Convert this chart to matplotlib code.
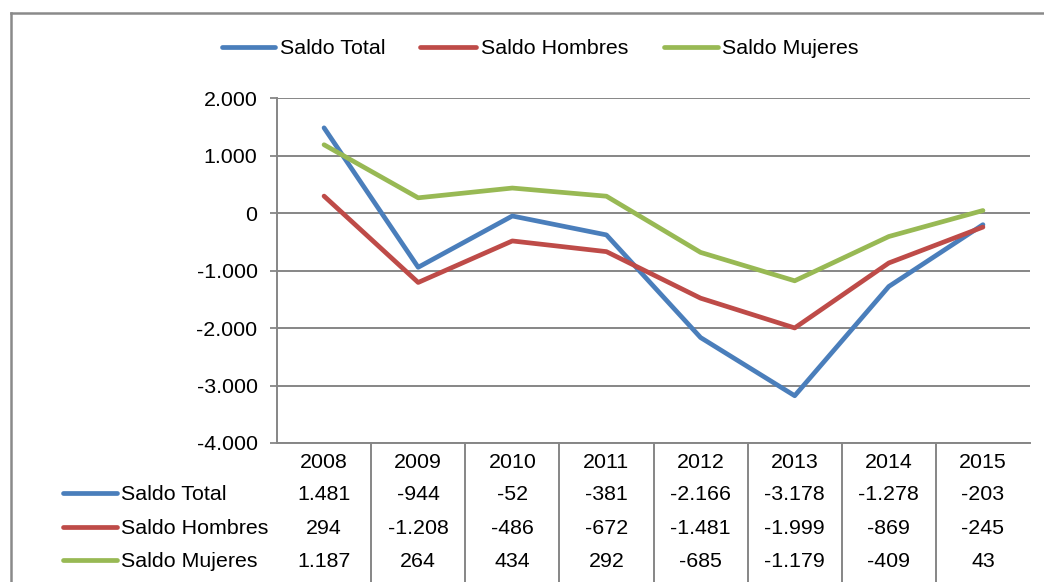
import matplotlib
matplotlib.use("Agg")
import matplotlib.pyplot as plt
from matplotlib.lines import Line2D
from matplotlib.ticker import FuncFormatter
import matplotlib.transforms as mtransforms

years = ["2008", "2009", "2010", "2011", "2012", "2013", "2014", "2015"]
series_names = ["Saldo Total", "Saldo Hombres", "Saldo Mujeres"]
saldo_total = [1481, -944, -52, -381, -2166, -3178, -1278, -203]
saldo_hombres = [294, -1208, -486, -672, -1481, -1999, -869, -245]
saldo_mujeres = [1187, 264, 434, 292, -685, -1179, -409, 43]
colors = ["#4A7EBB", "#BE4B48", "#98B954"]
series = [saldo_total, saldo_hombres, saldo_mujeres]

plt.rcParams['font.family'] = ['Liberation Sans', 'DejaVu Sans']
FS = 15.4
W, H = 1044, 582
fig = plt.figure(figsize=(W / 100, H / 100), dpi=100)

def fx(px):
    return px / W

def fy(py):
    return 1 - py / H

ax = fig.add_axes([fx(277), fy(443), fx(1030) - fx(277), fy(98) - fy(443)])
x = list(range(len(years)))
for vals, c in zip(series, colors):
    ax.plot(x, vals, color=c, lw=3.4, solid_capstyle='round', solid_joinstyle='round', zorder=3)

ax.set_xlim(-0.5, len(years) - 0.5)
ax.set_ylim(-4000, 2000)
ax.set_yticks(range(-4000, 2001, 1000))
ax.yaxis.set_major_formatter(FuncFormatter(lambda v, p: f"{int(v):,}".replace(",", ".")))
ax.tick_params(axis='y', length=5, width=1.3, color='#868686', labelsize=FS, pad=9, labelcolor='black')
for lbl in ax.get_yticklabels():
    lbl.set_y(lbl.get_position()[1])
ax.set_xticks([])
ax.grid(axis='y', color='#868686', lw=1.4, zorder=1)
for s in ['top', 'right']:
    ax.spines[s].set_visible(False)
for s in ['left', 'bottom']:
    ax.spines[s].set_color('#868686')
    ax.spines[s].set_linewidth(1.4)

# outer chart border
fig.add_artist(Line2D([fx(10.5), fx(10.5)], [0, fy(12.5)], transform=fig.transFigure, color='#8a8a8a', lw=1.8))
fig.add_artist(Line2D([fx(10.5), 1], [fy(12.5), fy(12.5)], transform=fig.transFigure, color='#8a8a8a', lw=1.8))

# legend (top)
leg_items = [(222, 275, 280), (420, 476, 481), (664, 718, 722)]
for (k0, k1, tx), name, c in zip(leg_items, series_names, colors):
    fig.add_artist(Line2D([fx(k0), fx(k1)], [fy(47), fy(47)], transform=fig.transFigure,
                          color=c, lw=3.4, solid_capstyle='round'))
    fig.text(fx(tx), fy(48.5), name, fontsize=FS, va='center', ha='left')

# data table
blend = mtransforms.blended_transform_factory(ax.transData, fig.transFigure)
for i in range(1, len(years)):
    fig.add_artist(Line2D([i - 0.5, i - 0.5], [0, fy(443)], transform=blend, color='#868686', lw=1.4))
for i, yr in enumerate(years):
    fig.text(i, fy(462.5), yr, transform=blend, fontsize=FS, ha='center', va='center')
row_y = [493, 527, 560]
for name, vals, c, ry in zip(series_names, series, colors, row_y):
    fig.add_artist(Line2D([fx(63), fx(117)], [fy(ry), fy(ry)], transform=fig.transFigure,
                          color=c, lw=3.4, solid_capstyle='round'))
    fig.text(fx(121), fy(ry + 1.5), name, fontsize=FS, va='center', ha='left')
    for i, v in enumerate(vals):
        fig.text(i, fy(ry + 1.5), f"{v:,}".replace(",", "."), transform=blend, fontsize=FS, ha='center', va='center')

fig.savefig("out.png", dpi=100)
